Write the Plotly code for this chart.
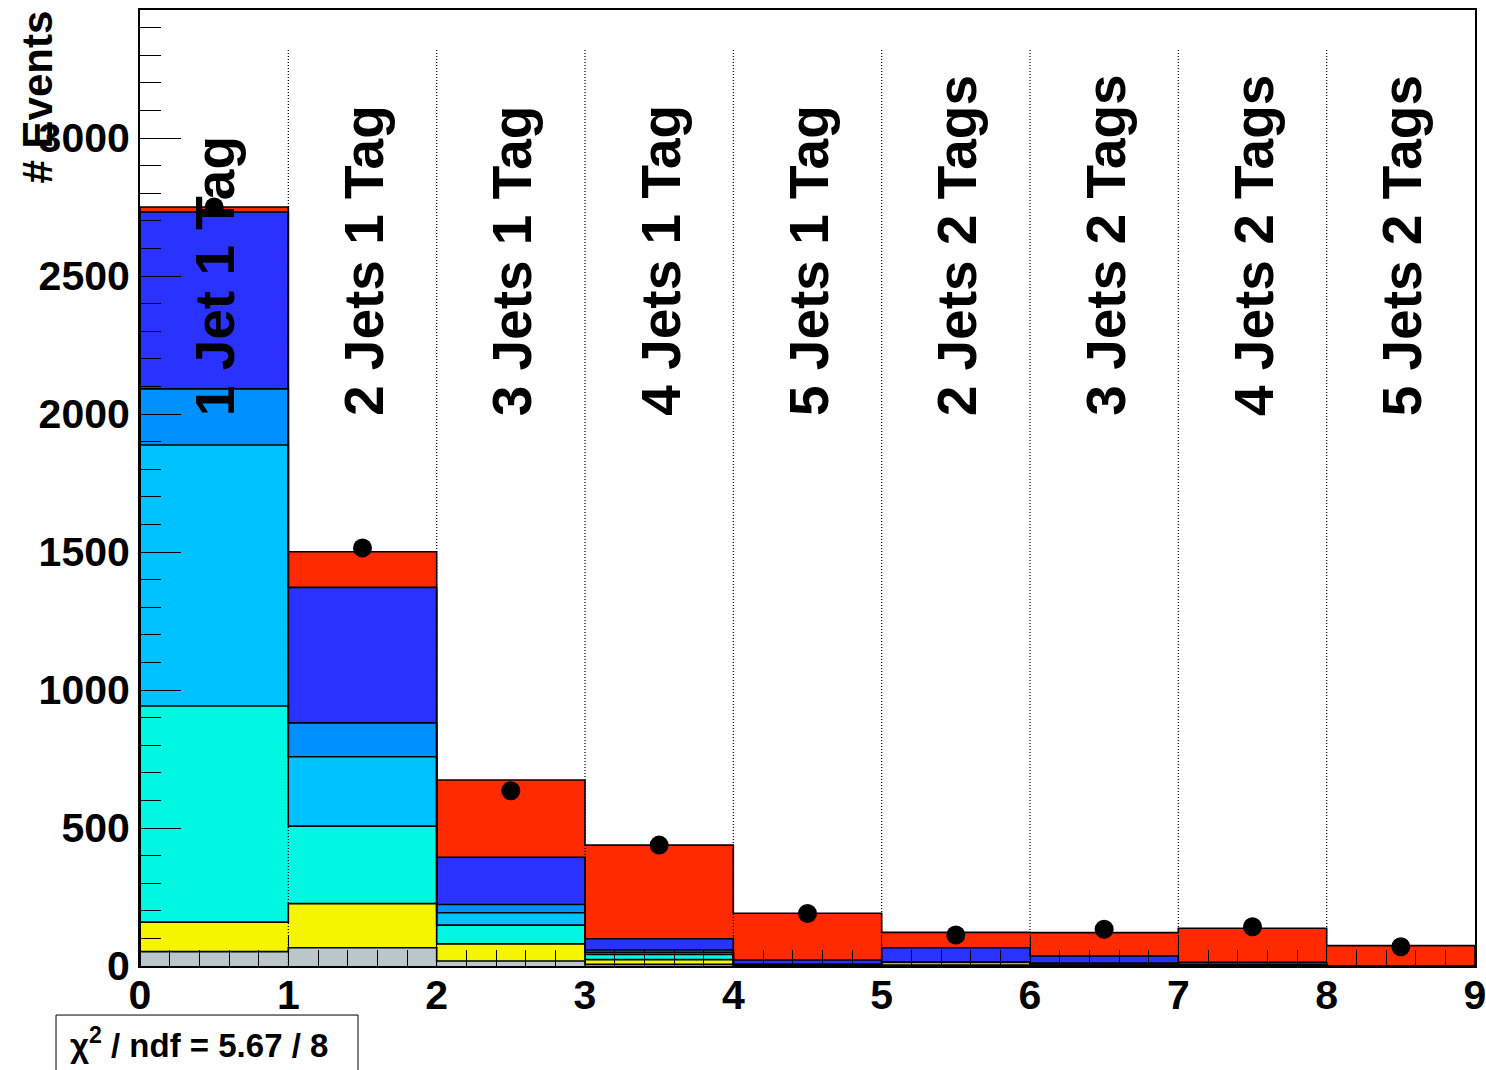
import numpy as np
import plotly.graph_objects as go

# Category labels, one per bin (bins sit on integer edges 0..9)
bin_labels = ["1 Jet 1 Tag", "2 Jets 1 Tag", "3 Jets 1 Tag", "4 Jets 1 Tag", "5 Jets 1 Tag",
              "2 Jets 2 Tags", "3 Jets 2 Tags", "4 Jets 2 Tags", "5 Jets 2 Tags"]
bin_edges = list(range(10))

# Stacked expectation components, bottom to top
comp_grey = [52, 66, 18, 6, 1, 3, 3, 1, 0]
comp_yellow = [107, 160, 62, 17, 2, 10, 5, 2, 0]
comp_cyan = [783, 281, 68, 19, 1, 1, 1, 0, 0]
comp_lightblue = [946, 251, 45, 8, 1, 0, 0, 0, 0]
comp_midblue = [203, 123, 30, 8, 1, 1, 1, 1, 0]
comp_blue = [641, 491, 171, 41, 16, 51, 26, 9, 1]
comp_red = [18, 129, 280, 339, 169, 56, 85, 124, 73]

# Observed counts
data_counts = [2750, 1515, 635, 438, 190, 112, 133, 142, 70]

chi2_text = "χ<sup>2</sup> / ndf = 5.67 / 8"

components = [
    (comp_grey, "#bcc6cd"),
    (comp_yellow, "#f5f500"),
    (comp_cyan, "#00f8e2"),
    (comp_lightblue, "#00c2ff"),
    (comp_midblue, "#0090ff"),
    (comp_blue, "#2a32ff"),
    (comp_red, "#ff2a00"),
]

FONT = "Liberation Sans, Arial, sans-serif"
centers = [(a + b) / 2 for a, b in zip(bin_edges[:-1], bin_edges[1:])]
widths = [b - a for a, b in zip(bin_edges[:-1], bin_edges[1:])]

fig = go.Figure()

# Filled stack
for vals, col in components:
    fig.add_trace(go.Bar(x=centers, y=vals, width=widths, marker=dict(color=col, line=dict(width=0)),
                         showlegend=False, hoverinfo="skip"))

# Step outlines of each cumulative level
cum = np.zeros(len(centers))
for vals, col in components:
    cum = cum + np.array(vals)
    xs = [bin_edges[0]] + bin_edges[:-1] + [bin_edges[-1], bin_edges[-1]]
    ys = [0] + list(cum) + [cum[-1], 0]
    fig.add_trace(go.Scatter(x=xs, y=ys, mode="lines", line=dict(color="black", width=1.6, shape="hv"),
                             showlegend=False, hoverinfo="skip"))

# Data points
fig.add_trace(go.Scatter(
    x=centers, y=data_counts, mode="markers",
    marker=dict(color="black", size=19, symbol="circle"),
    showlegend=False, hoverinfo="skip"))

# Dotted separators between categories
sep_top = 3320
for e in bin_edges[1:-1]:
    fig.add_shape(type="line", x0=e, x1=e, y0=0, y1=sep_top, xref="x", yref="y",
                  line=dict(color="black", width=1.2, dash="1px,2px"), layer="above")

# Vertical category labels
for c, lab in zip(centers, bin_labels):
    fig.add_annotation(x=c, y=2000, xref="x", yref="y", text=lab, showarrow=False,
                       textangle=-90, xanchor="center", yanchor="bottom", xshift=1, yshift=-4,
                       font=dict(family=FONT, size=55, color="black", weight="bold"))

# Y-axis title at the top end of the axis
fig.add_annotation(x=0, y=1, xref="paper", yref="paper", xshift=-103, yshift=1, text="# Events",
                   showarrow=False, textangle=-90, xanchor="center", yanchor="top",
                   font=dict(family=FONT, size=42, color="black", weight="bold"))

# Fit-quality box
fig.add_shape(type="rect", xref="paper", yref="paper", x0=-0.0629, x1=0.1633, y0=-0.125, y1=-0.0513,
              line=dict(color="black", width=1), fillcolor="white", layer="above")
fig.add_annotation(x=-0.0539, y=-0.0805, xref="paper", yref="paper", text=chi2_text, showarrow=False,
                   xanchor="left", yanchor="middle",
                   font=dict(family=FONT, size=33, color="black", weight="bold"))

axis_common = dict(showline=True, linecolor="black", linewidth=2, mirror=True, automargin=False,
                   ticks="inside", tickcolor="black", tickwidth=1.2, showgrid=False, zeroline=False,
                   ticklabeloverflow="allow",
                   tickfont=dict(family=FONT, size=41, color="black", weight="bold"))

fig.update_xaxes(range=[0, 9], dtick=1, tick0=0, ticklen=30, ticklabelstandoff=-8,
                 minor=dict(dtick=0.2, ticklen=16, ticks="inside", tickcolor="black", tickwidth=1.2),
                 **axis_common)
fig.update_yaxes(range=[0, 3464], dtick=500, tick0=0, ticklen=41,
                 minor=dict(dtick=100, ticklen=21, ticks="inside", tickcolor="black", tickwidth=1.2),
                 **axis_common)

fig.update_layout(width=1486, height=1070, margin=dict(l=140, r=11, t=10, b=104),
                  barmode="stack", bargap=0, plot_bgcolor="white", paper_bgcolor="white",
                  showlegend=False)

fig.write_html("out.html")
